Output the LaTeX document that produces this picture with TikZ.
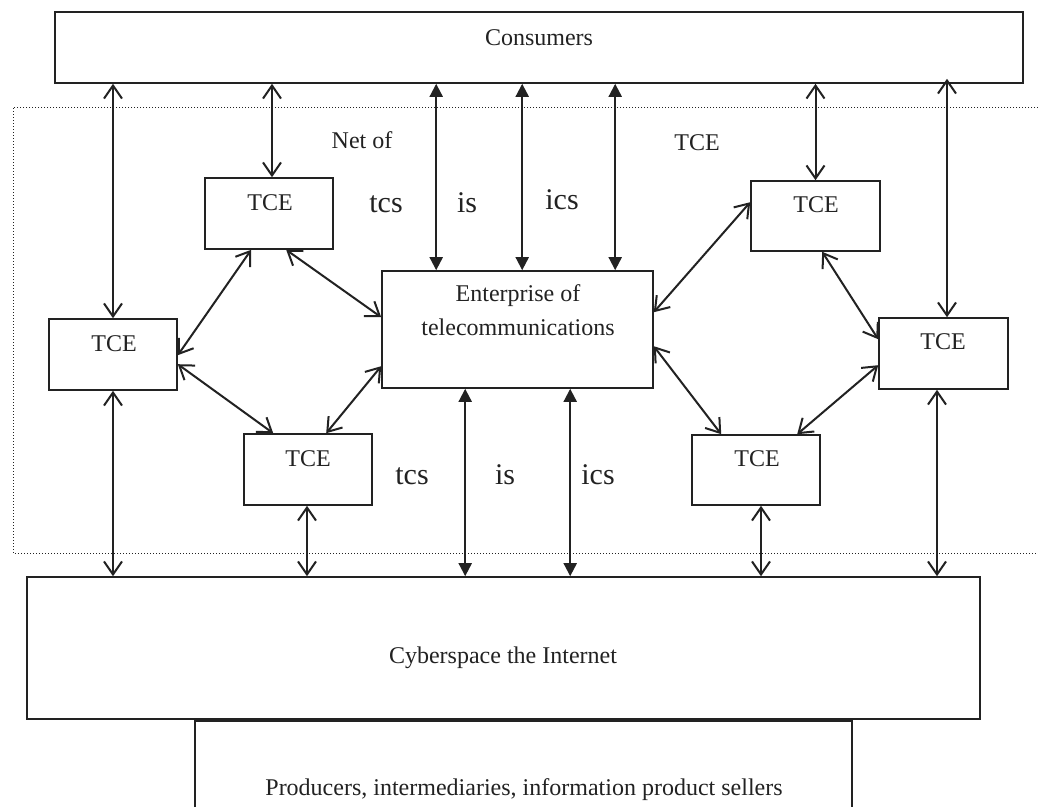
\documentclass[tikz,border=0pt]{standalone}
\usepackage{fontspec}
\setmainfont{Liberation Serif}
\usetikzlibrary{arrows.meta,calc}
\definecolor{ink}{HTML}{222222}
\begin{document}
\begin{tikzpicture}[x=1pt,y=-1pt,
  boxn/.style={draw=ink, line width=1.6pt, rectangle, inner sep=0pt},
  txt/.style={anchor=base, inner sep=0pt, text=ink, font=\fontsize{24}{34}\selectfont},
  lbl/.style={anchor=base, inner sep=0pt, text=ink, font=\fontsize{30}{34}\selectfont},
  openarr/.style={draw=ink, line width=2pt, {Straight Barb[length=13pt,width=18pt]}-{Straight Barb[length=13pt,width=18pt]}},
  fillarr/.style={draw=ink, line width=2pt, {Triangle[length=13pt,width=13pt]}-{Triangle[length=13pt,width=13pt]}},
  netline/.style={draw=ink, line width=1pt, dash pattern=on 1pt off 2pt}
]
\useasboundingbox (0,0) rectangle (1038,807);
\fill[white] (0,0) rectangle (1038,807);

% dotted net boundary
\draw[netline] (1038,107) -- (13,107) -- (13,553) -- (1038,553);

% boxes
\node[boxn, minimum width=968pt, minimum height=71pt] (cons) at (539,47.5) {};
\node[boxn, minimum width=128pt, minimum height=71pt] (tl) at (269,213.5) {};
\node[boxn, minimum width=128pt, minimum height=71pt] (lft) at (113,354.5) {};
\node[boxn, minimum width=128pt, minimum height=71pt] (bl) at (308,469.5) {};
\node[boxn, minimum width=271pt, minimum height=117pt] (ent) at (517.5,329.5) {};
\node[boxn, minimum width=129pt, minimum height=70pt] (tr) at (815.5,216) {};
\node[boxn, minimum width=129pt, minimum height=71pt] (rt) at (943.5,353.5) {};
\node[boxn, minimum width=128pt, minimum height=70pt] (br) at (756,470) {};
\node[boxn, minimum width=953pt, minimum height=142pt] (cyber) at (503.5,648) {};
\node[inner sep=0pt, minimum width=657pt, minimum height=86pt] (prod) at (523.5,764) {};
\draw[ink, line width=1.6pt] (prod.south west) -- (prod.north west) -- (prod.north east) -- (prod.south east);

% texts
\node[txt] (tcons) at (539,45) {Consumers};
\node[txt] (ttl) at (270,210) {TCE};
\node[txt] (tlft) at (114,351) {TCE};
\node[txt] (tbl) at (308,466) {TCE};
\node[txt] (ttr) at (816,212) {TCE};
\node[txt] (trt) at (943,349) {TCE};
\node[txt] (tbr) at (757,466) {TCE};
\node[txt] (tent1) at (518,301) {Enterprise of};
\node[txt] (tent2) at (518,335) {telecommunications};
\node[txt] (tnet) at (362,148) {Net of};
\node[txt] (tnet2) at (697,150) {TCE};
\node[txt] (tcyb) at (503,663) {Cyberspace the Internet};
\node[txt] (tprod) at (524,795) {Producers, intermediaries, information product sellers};

\node[lbl] (l1) at (386,212) {tcs};
\node[lbl] (l2) at (467,212) {is};
\node[lbl] (l3) at (562,209) {ics};
\node[lbl] (l4) at (412,484) {tcs};
\node[lbl] (l5) at (505,484) {is};
\node[lbl] (l6) at (598,484) {ics};

% coordinates on the enterprise box
\coordinate (e1) at ([xshift=55pt]ent.north west);
\coordinate (e2) at ([xshift=141pt]ent.north west);
\coordinate (e3) at ([xshift=234pt]ent.north west);
\coordinate (e4) at ([xshift=84pt]ent.south west);
\coordinate (e5) at ([xshift=189pt]ent.south west);

% vertical links to consumers
\draw[openarr] (lft.north |- cons.south) -- (lft.north);
\draw[openarr] ([xshift=3pt]tl.north |- cons.south) -- ([xshift=3pt]tl.north);
\draw[fillarr] (e1 |- cons.south) -- (e1);
\draw[fillarr] (e2 |- cons.south) -- (e2);
\draw[fillarr] (e3 |- cons.south) -- (e3);
\draw[openarr] (tr.north |- cons.south) -- (tr.north);
\draw[openarr] ([xshift=3.5pt,yshift=5pt]rt.north |- cons.south) -- ([xshift=3.5pt]rt.north);

% diagonal links
\draw[openarr] ([yshift=-37pt]lft.north east) -- ([xshift=47pt]tl.south west);
\draw[openarr] ([xshift=82pt]tl.south west) -- ([yshift=-47pt]ent.north west);
\draw[openarr] ([yshift=-46pt]lft.north east) -- ([xshift=30pt]bl.north west);
\draw[openarr] ([xshift=83pt]bl.north west) -- ([yshift=-96pt]ent.north west);
\draw[openarr] ([yshift=-42pt]ent.north east) -- ([yshift=-22pt]tr.north west);
\draw[openarr] ([xshift=72pt]tr.south west) -- ([yshift=-22pt]rt.north west);
\draw[openarr] ([yshift=-76pt]ent.north east) -- ([xshift=30pt]br.north west);
\draw[openarr] ([xshift=106pt]br.north west) -- ([yshift=-48pt]rt.north west);

% vertical links to cyberspace
\draw[openarr] (lft.south) -- (lft.south |- cyber.north);
\draw[openarr] ([xshift=-1pt]bl.south) -- ([xshift=-1pt]bl.south |- cyber.north);
\draw[fillarr] (e4) -- (e4 |- cyber.north);
\draw[fillarr] (e5) -- (e5 |- cyber.north);
\draw[openarr] ([xshift=5pt]br.south) -- ([xshift=5pt]br.south |- cyber.north);
\draw[openarr] ([xshift=-6.5pt]rt.south) -- ([xshift=-6.5pt]rt.south |- cyber.north);
\end{tikzpicture}
\end{document}
